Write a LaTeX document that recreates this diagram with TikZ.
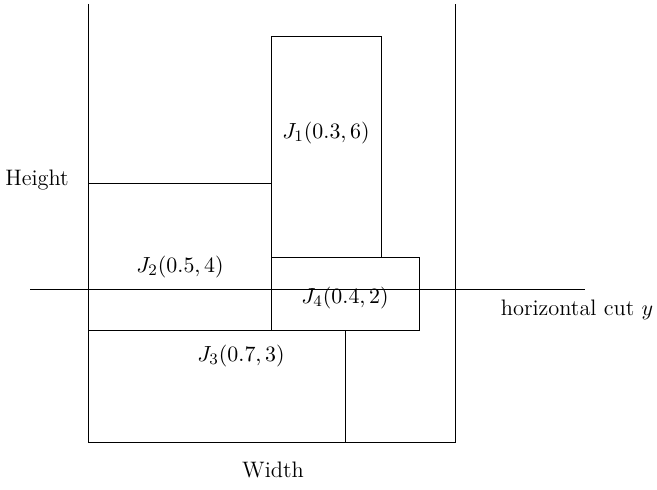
\documentclass[tikz,border=0pt]{standalone}
\begin{document}
\begin{tikzpicture}[x=0.5pt,y=-0.5pt,
  job/.style={draw=black,line width=0.5pt},
  lbl/.style={inner sep=0pt,font=\fontsize{11.2}{13.5}\selectfont}]
\useasboundingbox (0,0) rectangle (657,490);
% strip
\coordinate (sTL) at (88,4);
\coordinate (sBL) at (88,443);
\coordinate (sTR) at (455,4);
\coordinate (sBR) at (455,443);
\draw[line width=0.5pt] (sTL) -- (sBL) -- (sBR) -- (sTR);
% jobs
\draw[job] (88,331) rectangle (345,443);
\draw[job] (88,184) rectangle (271,331);
\draw[job] (271,258) rectangle (419,331);
\draw[job] (271,37) rectangle (381,258);
% cut
\coordinate (cL) at (30,290);
\coordinate (cR) at (585,290);
\draw[line width=0.5pt] (cL) -- (cR);
% labels
\node[lbl] (l1) at (326,133) {$J_1(0.3,6)$};
\node[lbl] (l2) at (180,267) {$J_2(0.5,4)$};
\node[lbl] (l3) at (241,356) {$J_3(0.7,3)$};
\node[lbl] (l4) at (345,298) {$J_4(0.4,2)$};
\node[lbl] (h) at (37,180) {Height};
\node[lbl] (w) at (273,470) {Width};
\node[lbl] (c) at (577,310) {horizontal cut $y$};
\end{tikzpicture}
\end{document}
